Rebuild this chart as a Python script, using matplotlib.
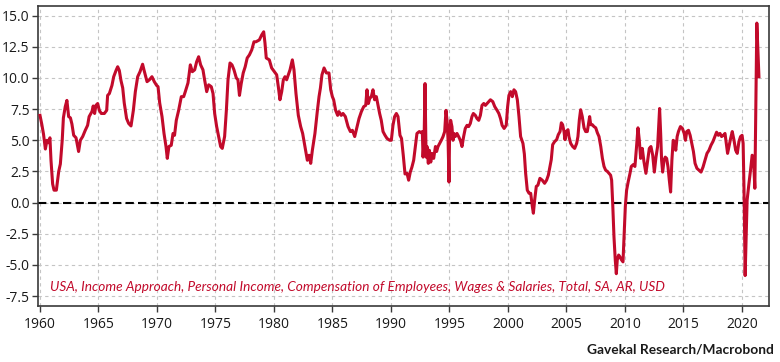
import matplotlib
matplotlib.use("Agg")
import matplotlib.pyplot as plt
import numpy as np

plt.rcParams['font.family'] = ['Open Sans', 'DejaVu Sans']

# ---- data (fractional year, % y/y) ----
t_1960s = [1960.00, 1960.15, 1960.30, 1960.46, 1960.60, 1960.74, 1960.85, 1960.94, 1961.08, 1961.20,
           1961.40, 1961.60, 1961.74, 1961.90, 1962.00, 1962.16, 1962.30, 1962.45, 1962.60, 1962.73,
           1962.88, 1963.08, 1963.30, 1963.45, 1963.65, 1963.87, 1964.07, 1964.20, 1964.44, 1964.55,
           1964.67, 1964.78, 1964.93, 1965.07, 1965.24, 1965.50, 1965.70, 1965.78, 1965.93, 1966.15,
           1966.30, 1966.50, 1966.64, 1966.78, 1966.92, 1967.07, 1967.20, 1967.40, 1967.58, 1967.78,
           1967.98, 1968.15, 1968.35, 1968.55, 1968.77, 1968.90, 1969.15, 1969.35, 1969.57, 1969.77,
           1969.97]
v_1960s = [7.0, 6.3, 5.5, 4.3, 5.0, 4.8, 5.2, 3.4, 1.5, 1.0,
           1.0, 2.5, 3.1, 5.0, 6.8, 7.7, 8.2, 6.9, 6.8, 6.3,
           5.4, 5.2, 4.1, 5.0, 5.3, 5.8, 6.2, 6.9, 7.3, 7.75,
           7.15, 7.8, 7.95, 7.4, 7.15, 7.15, 7.4, 8.6, 8.75, 9.4,
           10.1, 10.6, 10.9, 10.6, 9.8, 9.2, 8.0, 6.75, 6.35, 6.15,
           7.4, 8.9, 10.1, 10.5, 11.1, 10.6, 9.7, 9.85, 10.1, 9.7,
           9.4]

t_1970s = [1970.09, 1970.23, 1970.43, 1970.60, 1970.77, 1970.88, 1971.02, 1971.22, 1971.37, 1971.50,
           1971.65, 1971.85, 1972.08, 1972.28, 1972.42, 1972.65, 1972.85, 1973.02, 1973.22, 1973.39,
           1973.56, 1973.73, 1973.93, 1974.07, 1974.25, 1974.42, 1974.64, 1974.79, 1974.93, 1975.10,
           1975.27, 1975.44, 1975.58, 1975.78, 1975.93, 1976.07, 1976.24, 1976.41, 1976.58, 1976.78,
           1976.92, 1977.05, 1977.20, 1977.37, 1977.54, 1977.71, 1977.90, 1978.10, 1978.29, 1978.46,
           1978.75, 1978.95, 1979.12, 1979.23, 1979.34, 1979.60, 1979.80]
v_1970s = [9.3, 8.0, 6.9, 5.55, 4.5, 3.55, 4.5, 4.6, 5.55, 5.4,
           6.6, 7.4, 8.5, 8.5, 8.9, 9.6, 11.05, 10.5, 10.65, 11.3,
           11.7, 11.05, 10.65, 9.85, 8.9, 9.45, 9.3, 8.75, 7.15, 6.1,
           5.3, 4.5, 4.35, 5.3, 7.4, 9.85, 11.2, 11.05, 10.65, 10.0,
           9.85, 8.6, 9.55, 10.4, 10.9, 11.6, 11.85, 12.25, 12.9, 12.9,
           13.05, 13.45, 13.7, 12.8, 11.6, 11.45, 10.8]

t_1980s = [1980.03, 1980.23, 1980.37, 1980.51, 1980.66, 1980.80, 1980.94, 1981.08, 1981.23, 1981.37,
           1981.57, 1981.71, 1981.88, 1982.08, 1982.28, 1982.45, 1982.65, 1982.85, 1983.00, 1983.14,
           1983.28, 1983.50, 1983.70, 1983.85, 1983.97, 1984.10, 1984.28, 1984.48, 1984.70, 1984.85,
           1984.99, 1985.10, 1985.27, 1985.44, 1985.55, 1985.75, 1985.90, 1986.10, 1986.33, 1986.53,
           1986.70, 1986.90, 1987.10, 1987.27, 1987.47, 1987.67, 1987.84, 1987.95, 1988.07, 1988.18,
           1988.32, 1988.46, 1988.60, 1988.75, 1988.90, 1989.03, 1989.17, 1989.32, 1989.49, 1989.66,
           1989.89]
v_1980s = [10.5, 10.25, 9.3, 8.25, 8.9, 9.85, 10.1, 9.85, 10.25, 10.65,
           11.45, 10.65, 8.75, 7.0, 6.1, 5.55, 4.5, 3.4, 3.8, 3.15,
           4.2, 5.55, 7.3, 8.5, 9.2, 10.25, 10.8, 10.4, 10.4, 9.05,
           8.5, 8.25, 7.4, 7.0, 7.3, 7.0, 7.15, 6.9, 6.1, 5.7,
           5.8, 5.3, 6.1, 6.75, 7.3, 7.7, 7.8, 9.05, 7.95, 8.35,
           8.5, 9.05, 8.25, 8.5, 7.8, 7.15, 6.6, 5.7, 5.4, 5.15,
           5.0]

t_1990s = [1990.03, 1990.17, 1990.31, 1990.46, 1990.60, 1990.77, 1990.90, 1991.05, 1991.20, 1991.37,
           1991.51, 1991.65, 1991.79, 1991.94, 1992.08, 1992.22, 1992.42, 1992.59, 1992.68, 1992.74,
           1992.83, 1992.91, 1993.00, 1993.08, 1993.19, 1993.28, 1993.40, 1993.50, 1993.65, 1993.80,
           1993.90, 1994.02, 1994.16, 1994.30, 1994.45, 1994.59, 1994.70, 1994.79, 1994.88, 1994.96,
           1995.01, 1995.10, 1995.21, 1995.30, 1995.38, 1995.50, 1995.64, 1995.78, 1995.93, 1996.07,
           1996.21, 1996.35, 1996.50, 1996.64, 1996.78, 1996.92, 1997.04, 1997.21, 1997.35, 1997.50,
           1997.64, 1997.78, 1997.93, 1998.07, 1998.21, 1998.35, 1998.50, 1998.70, 1998.87, 1999.07,
           1999.22, 1999.36, 1999.50, 1999.67, 1999.85, 1999.97]
v_1990s = [5.0, 6.2, 6.9, 7.15, 6.9, 5.4, 5.15, 3.8, 2.3, 2.35,
           1.8, 2.45, 2.85, 3.4, 4.5, 5.55, 5.7, 5.6, 5.7, 3.65,
           5.0, 9.55, 3.65, 4.5, 3.15, 4.2, 3.25, 3.95, 3.55, 4.5,
           4.1, 4.5, 4.75, 5.0, 5.3, 5.7, 7.4, 6.6, 5.0, 1.65,
           5.55, 6.6, 6.1, 5.0, 5.55, 5.3, 5.55, 5.3, 5.0, 4.5,
           5.3, 5.95, 6.2, 6.1, 6.35, 6.9, 7.15, 7.0, 6.75, 6.6,
           7.0, 7.8, 7.95, 7.8, 7.95, 8.1, 8.25, 8.1, 7.7, 7.4,
           7.15, 6.75, 6.2, 5.95, 6.2, 7.7]

t_2000s = [2000.08, 2000.23, 2000.37, 2000.51, 2000.65, 2000.80, 2000.94, 2001.08, 2001.28, 2001.40,
           2001.51, 2001.65, 2001.80, 2001.94, 2002.08, 2002.17, 2002.28, 2002.42, 2002.56, 2002.73,
           2002.93, 2003.13, 2003.30, 2003.45, 2003.59, 2003.70, 2003.82, 2003.99, 2004.16, 2004.30,
           2004.45, 2004.56, 2004.67, 2004.79, 2004.87, 2004.99, 2005.13, 2005.21, 2005.36, 2005.53,
           2005.70, 2005.87, 2005.98, 2006.10, 2006.21, 2006.35, 2006.50, 2006.64, 2006.78, 2006.90,
           2006.98, 2007.07, 2007.21, 2007.35, 2007.50, 2007.64, 2007.78, 2007.93, 2008.07, 2008.21,
           2008.35, 2008.50, 2008.64, 2008.77, 2008.86, 2008.95, 2009.06, 2009.17, 2009.26, 2009.34,
           2009.46, 2009.57, 2009.71, 2009.83, 2009.91]
v_2000s = [8.6, 8.9, 8.5, 9.05, 8.9, 8.25, 6.9, 5.3, 4.75, 3.9,
           2.35, 1.0, 0.75, 0.75, -0.3, -0.85, 0.2, 1.3, 1.4, 1.95,
           1.8, 1.55, 1.8, 2.2, 2.9, 3.45, 4.65, 4.9, 5.05, 5.45,
           5.7, 6.4, 6.25, 5.7, 5.05, 5.7, 5.85, 5.3, 4.75, 4.5,
           4.35, 4.75, 5.3, 6.65, 7.45, 6.9, 6.0, 5.7, 5.7, 6.4,
           6.9, 6.25, 6.25, 6.1, 6.0, 5.6, 5.3, 4.5, 3.55, 2.9,
           2.6, 2.5, 2.35, 2.2, 1.8, -0.05, -2.75, -4.6, -5.7, -4.6,
           -4.2, -4.35, -4.6, -4.75, -3.0]

t_2010s = [2010.03, 2010.14, 2010.28, 2010.43, 2010.54, 2010.71, 2010.85, 2010.99, 2011.11, 2011.22,
           2011.34, 2011.48, 2011.62, 2011.79, 2011.94, 2012.08, 2012.22, 2012.37, 2012.51, 2012.65,
           2012.79, 2012.88, 2012.96, 2013.05, 2013.13, 2013.22, 2013.34, 2013.44, 2013.56, 2013.68,
           2013.79, 2013.90, 2014.01, 2014.12, 2014.23, 2014.34, 2014.46, 2014.57, 2014.74, 2014.91,
           2015.06, 2015.17, 2015.28, 2015.43, 2015.57, 2015.71, 2015.85, 2015.99, 2016.15, 2016.32,
           2016.50, 2016.67, 2016.84, 2017.01, 2017.18, 2017.35, 2017.52, 2017.69, 2017.83, 2017.98,
           2018.12, 2018.26, 2018.41, 2018.55, 2018.66, 2018.77, 2018.89, 2019.03, 2019.17, 2019.32,
           2019.46, 2019.60, 2019.74, 2019.88]
v_2010s = [-0.3, 1.0, 1.7, 2.35, 2.9, 3.05, 2.9, 4.5, 6.0, 5.05,
           3.55, 4.35, 3.3, 2.35, 3.4, 4.35, 4.5, 3.8, 2.45, 3.65,
           4.5, 6.1, 7.55, 5.55, 3.4, 2.45, 3.4, 3.65, 3.55, 2.85,
           1.8, 0.85, 3.4, 5.0, 4.9, 4.2, 5.3, 5.7, 6.1, 5.95,
           5.55, 5.0, 5.7, 5.8, 5.4, 4.75, 4.1, 3.15, 2.75, 2.6,
           2.45, 2.85, 3.4, 3.95, 4.2, 4.6, 4.9, 5.3, 5.65, 5.4,
           5.55, 5.3, 5.4, 5.55, 4.75, 3.95, 4.5, 5.15, 5.7, 5.0,
           4.2, 3.95, 4.9, 5.3]

t_2020s = [2020.01, 2020.10, 2020.19, 2020.27, 2020.36, 2020.44, 2020.58, 2020.73, 2020.87, 2020.98,
           2021.10, 2021.27, 2021.45]
v_2020s = [5.4, 4.75, 0.2, -5.85, -2.5, 0.2, 1.4, 2.6, 3.8, 3.65,
           1.15, 14.4, 10.1]

series_label = ("USA, Income Approach, Personal Income, Compensation of Employees, "
                "Wages & Salaries, Total, SA, AR, USD")
source_label = "Gavekal Research/Macrobond"
x_ticks = list(range(1960, 2021, 5))
y_ticks = [-7.5, -5.0, -2.5, 0.0, 2.5, 5.0, 7.5, 10.0, 12.5, 15.0]

t = np.concatenate([t_1960s, t_1970s, t_1980s, t_1990s, t_2000s, t_2010s, t_2020s])
v = np.concatenate([v_1960s, v_1970s, v_1980s, v_1990s, v_2000s, v_2010s, v_2020s])

RED = '#C20A2B'

fig = plt.figure(figsize=(7.8, 3.62), dpi=100)
ax = fig.add_axes([38/780, 1-306/362, (769-38)/780, (306-6)/362])

ax.set_xlim(1959.83, 2022.31)
ax.set_ylim(-8.29, 15.77)
ax.set_xticks(x_ticks)
ax.set_yticks(y_ticks)
ax.set_yticklabels([f"{y:.1f}" for y in y_ticks])

ax.grid(True, linestyle=(0, (3, 3)), color='#c4c4c4', linewidth=0.8)
ax.set_axisbelow(True)
ax.axhline(0, color='black', linestyle=(0, (4, 2)), linewidth=1.5, zorder=2)

ax.plot(t, v, color=RED, linewidth=2.2, zorder=3, solid_joinstyle='round')

for s in ax.spines.values():
    s.set_color('#3a3a3a')
    s.set_linewidth(1.2)

ax.tick_params(axis='both', colors='#3a3a3a', labelcolor='#1a1a1a', labelsize=10,
               length=4, width=1.0, direction='out')
ax.tick_params(axis='x', pad=4)
ax.tick_params(axis='y', pad=2)

ax.text((50-38)/731, (306-287)/300, series_label, transform=ax.transAxes,
        color=RED, fontsize=9.8, fontstyle='italic', ha='left', va='center',
        family=['Lato', 'DejaVu Sans'])

fig.text(774/780, 1-349/362, source_label, fontsize=9.9, fontweight='bold',
         ha='right', va='center', color='#1a1a1a', family=['Lato', 'DejaVu Sans'])

fig.savefig('out.png', dpi=100)
